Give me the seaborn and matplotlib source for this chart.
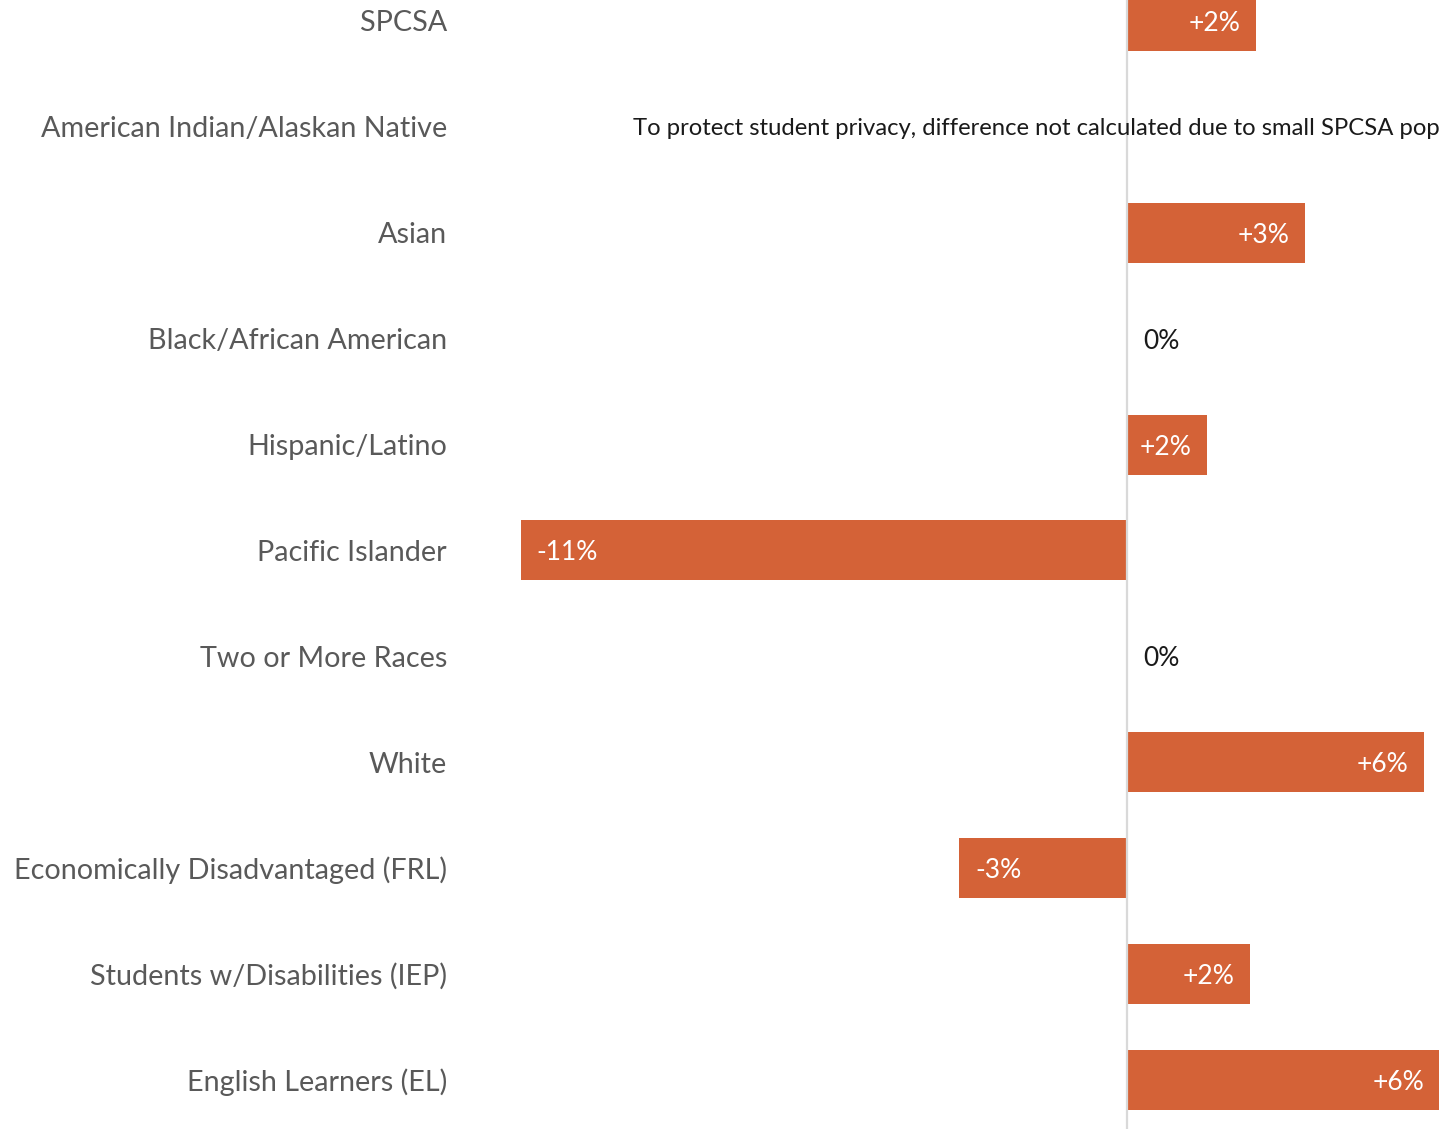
import matplotlib
matplotlib.use("Agg")
import matplotlib.pyplot as plt
import seaborn as sns
import pandas as pd
import numpy as np

categories = ["SPCSA", "American Indian/Alaskan Native", "Asian", "Black/African American",
              "Hispanic/Latino", "Pacific Islander", "Two or More Races", "White",
              "Economically Disadvantaged (FRL)", "Students w/Disabilities (IEP)",
              "English Learners (EL)"]
values = [2.42, np.nan, 3.34, 0.0, 1.5, -11.37, 0.0, 5.57, -3.15, 2.31, 5.87]
value_labels = ["+2%", None, "+3%", "0%", "+2%", "-11%", "0%", "+6%", "-3%", "+2%", "+6%"]
privacy_note = "To protect student privacy, difference not calculated due to small SPCSA population"

BAR = "#D46237"
GRAY = "#595959"

sns.set_theme(style="white")
plt.rcParams['font.family'] = ['Lato', 'DejaVu Sans']

df = pd.DataFrame({"group": categories, "diff": values})

W, H = 1439, 1129
fig = plt.figure(figsize=(W / 100, H / 100), dpi=100)
ax = fig.add_axes([460 / W, 0, 1 - 460 / W, 1])

sns.barplot(data=df, y="group", x="diff", order=categories, orient="h",
            color=BAR, saturation=1, width=0.567, ax=ax, errorbar=None,
            linewidth=0)

ax.set_xlim(-12.51, 5.85)
ax.set_ylim(10.463, -0.198)
ax.axvline(0, color="#D9D9D9", lw=1.6, zorder=3)

for s in ax.spines.values():
    s.set_visible(False)
ax.set_xticks([])
ax.set_xlabel("")
ax.set_ylabel("")
ax.tick_params(axis="y", length=0, pad=9.4, labelsize=20.7, labelcolor=GRAY)

for i, (v, lab) in enumerate(zip(values, value_labels)):
    if lab is None:
        ax.text(-9.27, i, privacy_note, ha="left", va="center_baseline", fontsize=17.2,
                color="#1a1a1a", zorder=4)
        continue
    if v > 0:
        ax.annotate(lab, (v, i), xytext=(-11.5, 0), textcoords="offset points",
                    ha="right", va="center_baseline", fontsize=19, color="white",
                    annotation_clip=False, zorder=5)
    elif v < 0:
        ax.annotate(lab, (v, i), xytext=(11.5, 0), textcoords="offset points",
                    ha="left", va="center_baseline", fontsize=19, color="white",
                    annotation_clip=False, zorder=5)
    else:
        ax.annotate(lab, (0, i), xytext=(11.5, 0), textcoords="offset points",
                    ha="left", va="center_baseline", fontsize=19, color="#1a1a1a",
                    annotation_clip=False, zorder=5)

fig.savefig("out.png", dpi=100)
